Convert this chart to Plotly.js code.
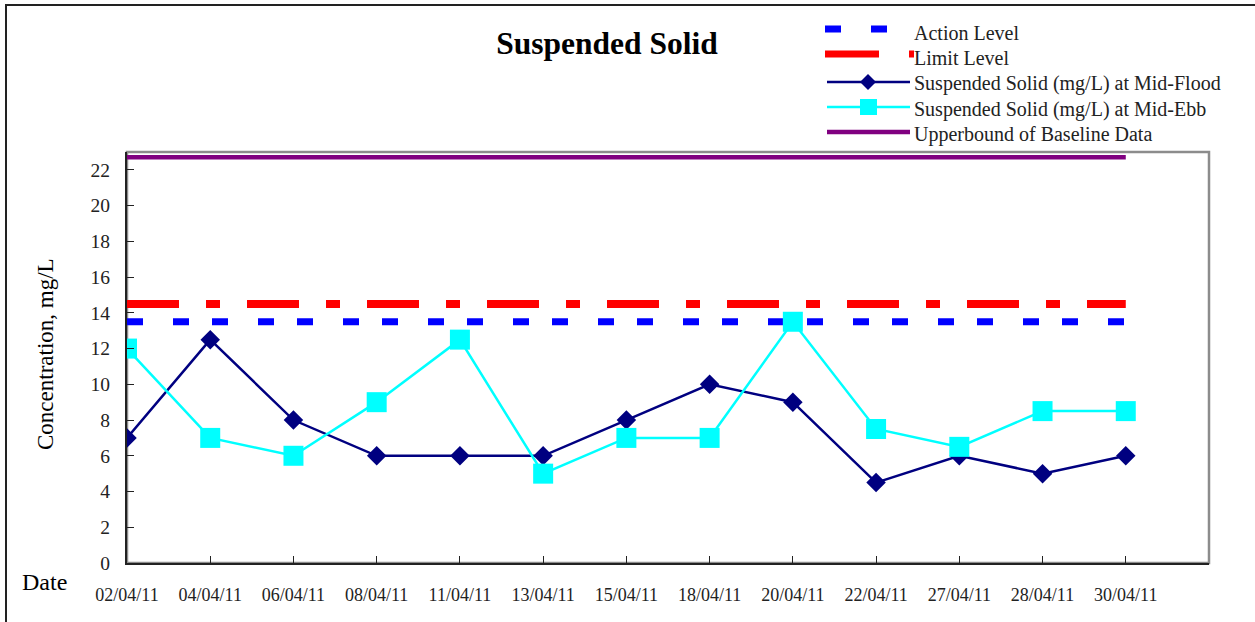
<!DOCTYPE html>
<html>
<head>
<meta charset="utf-8">
<script src="https://cdn.plot.ly/plotly-3.0.1.min.js"></script>
<style>
html,body{margin:0;padding:0;background:#fff;}
#wrap{position:relative;width:1255px;height:622px;overflow:hidden;}
#chart{position:absolute;left:0;top:0;width:1255px;height:622px;}
#frame{position:absolute;left:5px;top:4px;width:1260px;height:630px;border-left:2px solid #222;border-top:2px solid #222;pointer-events:none;}
</style>
</head>
<body>
<div id="wrap"><div id="chart"></div><div id="frame"></div></div>
<script>
const dates = ["02/04/11","04/04/11","06/04/11","08/04/11","11/04/11","13/04/11","15/04/11","18/04/11","20/04/11","22/04/11","27/04/11","28/04/11","30/04/11"];
const midFlood = [7, 12.5, 8, 6, 6, 6, 8, 10, 9, 4.5, 6, 5, 6];
const midEbb = [12, 7, 6, 9, 12.5, 5, 7, 7, 13.5, 7.5, 6.5, 8.5, 8.5];
const actionLevel = 13.5;
const limitLevel = 14.5;
const upperBound = 22.7;
const yTicks = [0,2,4,6,8,10,12,14,16,18,20,22];
const seriesNames = ["Action Level", "Limit Level", "Suspended Solid (mg/L) at Mid-Flood",
                     "Suspended Solid (mg/L) at Mid-Ebb", "Upperbound of Baseline Data"];

const fill = v => dates.map(() => v);
const serif = "'Liberation Serif', 'Times New Roman', serif";

const C = {action: "#0000ff", limit: "#ff0000", flood: "#000080", ebb: "#00ffff", upper: "#800080"};
const dashAction = "16px,30px,16px,23px";
const dashLimit = "52px,27px,14px,27px";

const traces = [
  {x: dates, y: fill(actionLevel), name: seriesNames[0], mode: "lines",
   line: {color: C.action, width: 7, dash: dashAction}},
  {x: dates, y: fill(limitLevel), name: seriesNames[1], mode: "lines",
   line: {color: C.limit, width: 8, dash: dashLimit}},
  {x: dates, y: midFlood, name: seriesNames[2], mode: "lines+markers",
   line: {color: C.flood, width: 2.5}, marker: {symbol: "diamond", size: 15, color: C.flood}},
  {x: dates, y: midEbb, name: seriesNames[3], mode: "lines+markers",
   line: {color: C.ebb, width: 2.5}, marker: {symbol: "square", size: 20, color: C.ebb}},
  {x: dates, y: fill(upperBound), name: seriesNames[4], mode: "lines",
   line: {color: C.upper, width: 4.5}}
];

// plot-area geometry (pixels) used to place the legend in paper units
const M = {l: 127, r: 46, t: 152, b: 59};
const W = 1255, H = 622;
const pw = W - M.l - M.r, ph = H - M.t - M.b;
const px = v => (v - M.l) / pw;
const py = v => (H - M.b - v) / ph;

// legend layout (pixels)
const legX0 = 825, legX1 = 910, legTextX = 912;
const legRows = [29, 54, 82, 107, 132];
const legTextY = [33, 58, 84, 109, 135];

const shapes = [
  {type: "rect", xref: "paper", yref: "paper", x0: 0, x1: 1, y0: 0, y1: 1,
   line: {color: "#8c8c8c", width: 2.5}, layer: "below"},
  // legend samples
  {type: "line", xref: "paper", yref: "paper", x0: px(legX0), x1: px(legX0 + 62), y0: py(legRows[0]), y1: py(legRows[0]),
   line: {color: C.action, width: 7, dash: "16px,30px"}},
  {type: "line", xref: "paper", yref: "paper", x0: px(legX0), x1: px(legX1 + 4), y0: py(legRows[1]), y1: py(legRows[1]),
   line: {color: C.limit, width: 7, dash: "54px,30px"}},
  {type: "line", xref: "paper", yref: "paper", x0: px(legX0 + 2), x1: px(legX1), y0: py(legRows[2]), y1: py(legRows[2]),
   line: {color: C.flood, width: 2.5}},
  {type: "path", xref: "paper", yref: "paper", fillcolor: C.flood, line: {width: 0},
   path: `M${px(868)},${py(legRows[2] - 8)} L${px(876)},${py(legRows[2])} L${px(868)},${py(legRows[2] + 8)} L${px(860)},${py(legRows[2])} Z`},
  {type: "line", xref: "paper", yref: "paper", x0: px(legX0 + 2), x1: px(legX1), y0: py(legRows[3]), y1: py(legRows[3]),
   line: {color: C.ebb, width: 2.5}},
  {type: "rect", xref: "paper", yref: "paper", fillcolor: C.ebb, line: {width: 0},
   x0: px(860), x1: px(877), y0: py(legRows[3] - 8), y1: py(legRows[3] + 8)},
  {type: "line", xref: "paper", yref: "paper", x0: px(legX0 + 2), x1: px(legX1), y0: py(legRows[4]), y1: py(legRows[4]),
   line: {color: C.upper, width: 4.5}}
];

const annotations = [
  {text: "Concentration, mg/L", textangle: -90, xref: "paper", yref: "paper",
   x: px(45), y: py(354), xanchor: "center", yanchor: "middle", showarrow: false,
   font: {family: serif, size: 23, color: "#000"}},
  {text: "Date", xref: "paper", yref: "paper", x: px(44), y: py(582),
   xanchor: "center", yanchor: "middle", showarrow: false,
   font: {family: serif, size: 24, color: "#000"}}
];
seriesNames.forEach((n, i) => annotations.push({
  text: n, xref: "paper", yref: "paper", x: px(legTextX), y: py(legTextY[i]),
  xanchor: "left", yanchor: "middle", showarrow: false,
  font: {family: serif, size: 20, color: "#222"}
}));

const layout = {
  width: W, height: H,
  margin: M,
  paper_bgcolor: "#fff", plot_bgcolor: "#fff",
  font: {family: serif, color: "#222"},
  showlegend: false,
  title: {text: "<b>Suspended Solid</b>", font: {family: serif, size: 31.5, color: "#000"},
          xref: "paper", x: px(607), xanchor: "center", yref: "container", y: 1 - 43 / H, yanchor: "middle"},
  xaxis: {type: "category", range: [0, 13], showgrid: false, zeroline: false,
          showline: true, linecolor: "#222", linewidth: 2,
          ticks: "inside", ticklen: 7, tickcolor: "#222", tickwidth: 1,
          tickfont: {family: serif, size: 18, color: "#222"}, ticklabelstandoff: 14,
          fixedrange: true},
  yaxis: {range: [0, 23], tickvals: yTicks, showgrid: false, zeroline: false,
          showline: true, linecolor: "#222", linewidth: 2,
          ticks: "inside", ticklen: 7, tickcolor: "#222", tickwidth: 1,
          tickfont: {family: serif, size: 19.5, color: "#222"}, ticklabelstandoff: 11,
          fixedrange: true},
  shapes: shapes,
  annotations: annotations
};

Plotly.newPlot("chart", traces, layout, {displayModeBar: false, staticPlot: true});
</script>
</body>
</html>
